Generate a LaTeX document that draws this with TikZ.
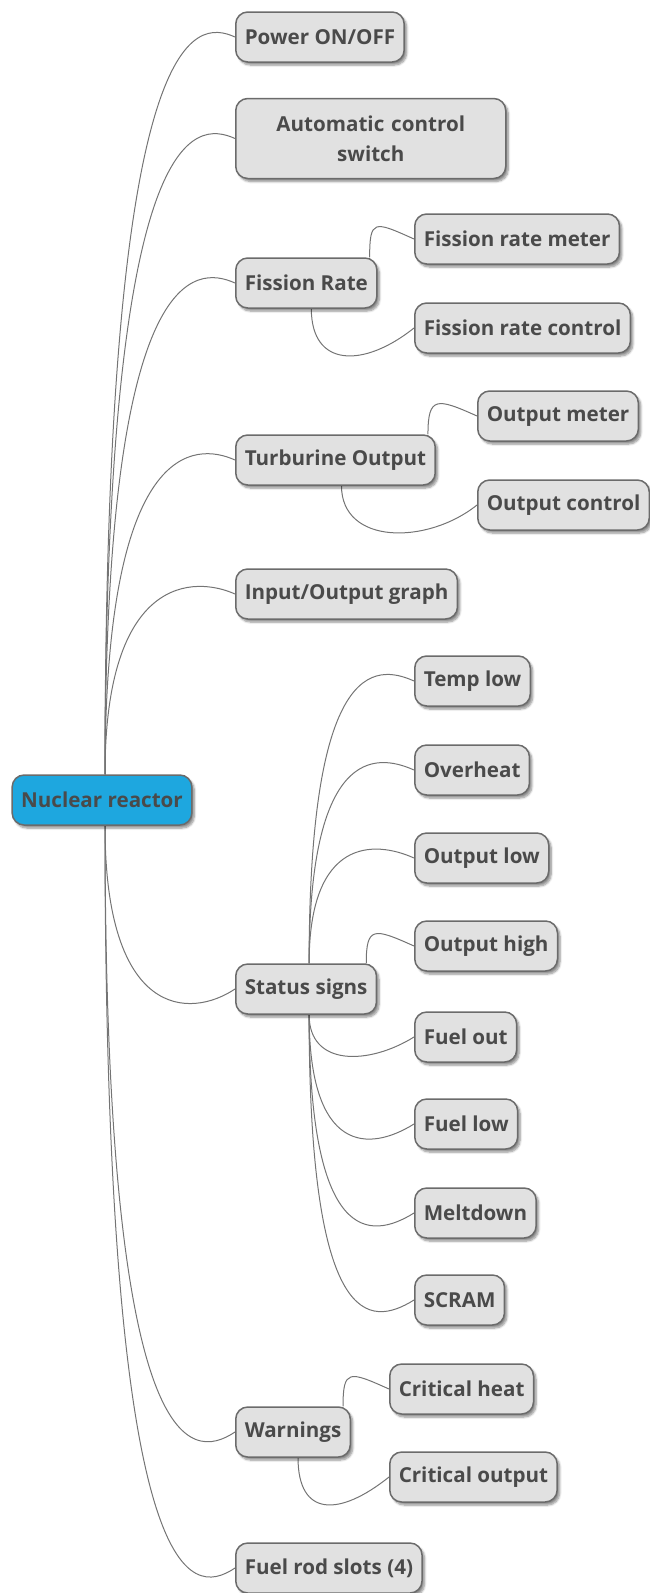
\documentclass[tikz,border=0pt]{standalone}
\usepackage{fontspec}
\setmainfont{Open Sans}
\usetikzlibrary{calc,backgrounds,shadows.blur}

\definecolor{boxfill}{HTML}{E1E1E1}
\definecolor{boxline}{HTML}{6B6B6B}
\definecolor{ink}{HTML}{4A4A4A}
\definecolor{rootfill}{HTML}{1EA7DF}
\definecolor{wirecol}{HTML}{747474}

\tikzset{
  topic/.style={draw=boxline, line width=1.5pt, fill=boxfill, rounded corners=12pt,
    minimum height=50pt, inner xsep=9pt, inner ysep=4pt, text=ink,
    font=\fontsize{20.6}{30}\selectfont\bfseries,
    blur shadow={shadow xshift=2.5pt, shadow yshift=-3pt, shadow blur steps=6,
      shadow opacity=45}},
  leaf/.style={topic, anchor=west},
  hub/.style={topic, fill=rootfill},
  wire/.style={draw=wirecol, line width=1pt},
}

% curved connector: start, target, vertical lead of first control,
% offset of second control from the target
\newcommand\curvelink[5]{%
  \draw[wire] (#1) .. controls ($(#1 |- #2)+(0,#3)$) and ($(#2)+(#4,#5)$) .. (#2);}

\begin{document}
\begin{tikzpicture}[x=1pt, y=-1pt]
\useasboundingbox (0,0) rectangle (649,1593);

% centre
\node[hub] (r) at (102,800) {Nuclear reactor};

% first level
\node[leaf] (pw) at (235,37)   {Power ON/OFF};
\node[leaf, text width=252pt, align=center, minimum height=80pt] (ac) at (235,138.5)
  {Automatic control\\switch};
\node[leaf] (fr) at (235,283)  {Fission Rate};
\node[leaf] (to) at (235,460)  {Turburine Output};
\node[leaf] (io) at (235,594)  {Input/Output graph};
\node[leaf] (ss) at (235,989)  {Status signs};
\node[leaf] (wa) at (235,1432) {Warnings};
\node[leaf] (fs) at (235,1568) {Fuel rod slots (4)};

% second level
\node[leaf] (frm) at (414,239)  {Fission rate meter};
\node[leaf] (frc) at (414,328)  {Fission rate control};
\node[leaf] (om)  at (477,416)  {Output meter};
\node[leaf] (oc)  at (477,505)  {Output control};
\node[leaf] (tl)  at (414,681)  {Temp low};
\node[leaf] (oh)  at (414,770)  {Overheat};
\node[leaf] (ol)  at (414,858)  {Output low};
\node[leaf] (ohi) at (414,946)  {Output high};
\node[leaf] (fo)  at (414,1037) {Fuel out};
\node[leaf] (fl)  at (414,1124) {Fuel low};
\node[leaf] (md)  at (414,1213) {Meltdown};
\node[leaf] (sc)  at (414,1300) {SCRAM};
\node[leaf] (ch)  at (389,1389) {Critical heat};
\node[leaf] (co)  at (389,1477) {Critical output};

% connector start points on the node edges
\coordinate (rT)  at ([xshift=3]r.north);
\coordinate (rB)  at ([xshift=3]r.south);
\coordinate (frT) at ([xshift=-8]fr.north east);
\coordinate (frB) at ([xshift=5]fr.south);
\coordinate (toT) at ([xshift=-8]to.north east);
\coordinate (toB) at ([xshift=6]to.south);
\coordinate (ssT) at ([xshift=3]ss.north);
\coordinate (ssN) at ([xshift=-11]ss.north east);
\coordinate (ssB) at ([xshift=3]ss.south);
\coordinate (waT) at ([xshift=-8]wa.north east);
\coordinate (waB) at ([xshift=5]wa.south);

\begin{pgfonlayer}{background}
  % centre to first level
  \curvelink{rT}{pw.west}{-20}{-40}{-18}
  \curvelink{rT}{ac.west}{-20}{-40}{-18}
  \curvelink{rT}{fr.west}{-20}{-40}{-18}
  \curvelink{rT}{to.west}{-20}{-40}{-18}
  \curvelink{rT}{io.west}{-20}{-40}{-18}
  \curvelink{rB}{ss.west}{30}{-45}{30}
  \curvelink{rB}{wa.west}{30}{-45}{30}
  \curvelink{rB}{fs.west}{30}{-45}{30}
  % fission rate
  \curvelink{frT}{frm.west}{-20}{-40}{-18}
  \curvelink{frB}{frc.west}{40}{-50}{40}
  % turbine output
  \curvelink{toT}{om.west}{-20}{-40}{-18}
  \curvelink{toB}{oc.west}{40}{-50}{40}
  % status signs
  \curvelink{ssT}{tl.west}{-20}{-40}{-18}
  \curvelink{ssT}{oh.west}{-20}{-40}{-18}
  \curvelink{ssT}{ol.west}{-20}{-40}{-18}
  \curvelink{ssN}{ohi.west}{-20}{-40}{-18}
  \curvelink{ssB}{fo.west}{30}{-45}{28}
  \curvelink{ssB}{fl.west}{30}{-45}{28}
  \curvelink{ssB}{md.west}{30}{-45}{28}
  \curvelink{ssB}{sc.west}{30}{-45}{28}
  % warnings
  \curvelink{waT}{ch.west}{-20}{-40}{-18}
  \curvelink{waB}{co.west}{40}{-50}{40}
\end{pgfonlayer}
\end{tikzpicture}
\end{document}
